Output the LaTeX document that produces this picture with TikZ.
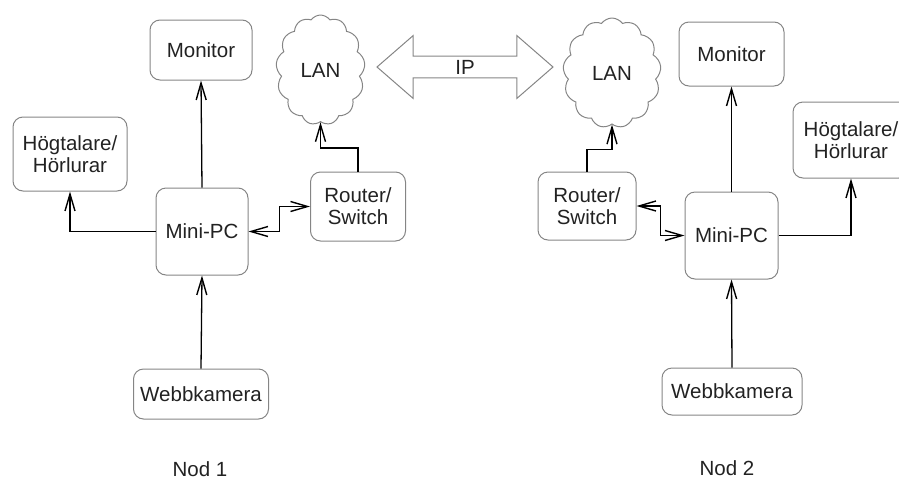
\documentclass[tikz,border=0pt]{standalone}
\usepackage{fontspec}
\setmainfont{Liberation Sans}
\usetikzlibrary{arrows.meta,shapes.symbols,shapes.arrows}
\definecolor{boxgray}{HTML}{858585}
\definecolor{txt}{HTML}{222222}
\begin{document}
\begin{tikzpicture}[x=1pt,y=-1pt,
  lbl/.style={text=txt,font=\fontsize{20.5}{22}\selectfont},
  box/.style={lbl,draw=boxgray,line width=1pt,rounded corners=10pt,align=center,inner sep=0pt},
  lan/.style={lbl,cloud,draw=boxgray,line width=1pt,cloud puffs=13,cloud puff arc=110,cloud ignores aspect,inner sep=0pt},
  conn/.style={draw=black,line width=1.3pt,-{Straight Barb[length=17pt,width=10pt,line width=1.4pt,sharp]}},
  bconn/.style={draw=black,line width=1.3pt,{Straight Barb[length=17pt,width=10pt,line width=1.4pt,sharp]}-{Straight Barb[length=17pt,width=10pt,line width=1.4pt,sharp]}}]
\useasboundingbox (0,0) rectangle (899,480);
\clip (0,0) rectangle (899,480);
% left node
\node[box,minimum width=102pt,minimum height=60pt] (mon1) at (201,50) {Monitor};
\node[box,minimum width=114pt,minimum height=74pt] (spk1) at (70,154) {Högtalare/\\Hörlurar};
\node[box,minimum width=92pt,minimum height=87pt] (pc1) at (202,231.5) {Mini-PC};
\node[box,minimum width=95pt,minimum height=69pt] (rt1) at (358,206.5) {Router/\\Switch};
\node[lan,minimum width=89pt,minimum height=110pt] (lan1) at (320.5,70) {LAN};
\node[box,minimum width=135pt,minimum height=50pt] (cam1) at (201,394) {Webbkamera};
\node[lbl] (nod1) at (200,469) {Nod 1};
% IP arrow
\node[lbl,double arrow,draw=boxgray,line width=1pt,minimum height=176pt,minimum width=63pt,
  double arrow head extend=14.5pt,double arrow tip angle=82,inner sep=0pt] (ip) at (465,67) {IP};
% right node
\node[lan,minimum width=98pt,minimum height=110pt] (lan2) at (612,73) {LAN};
\node[box,minimum width=105pt,minimum height=64pt] (mon2) at (731.5,54) {Monitor};
\node[box,minimum width=116pt,minimum height=76pt] (spk2) at (851,140) {Högtalare/\\Hörlurar};
\node[box,minimum width=98pt,minimum height=68pt] (rt2) at (587,206) {Router/\\Switch};
\node[box,minimum width=93pt,minimum height=87pt] (pc2) at (731.5,235.5) {Mini-PC};
\node[box,minimum width=140pt,minimum height=47pt] (cam2) at (732,391.5) {Webbkamera};
\node[lbl] (nod2) at (727,468) {Nod 2};
% connectors left
\draw[conn] (pc1.north) -- (mon1.south);
\draw[conn] (pc1.west) -| (spk1.south);
\draw[bconn] (pc1.east) -- ++(31,0) |- (rt1.west);
\draw[conn] (rt1.north) -- ++(0,-23.5) -| (lan1.south);
\draw[conn] (cam1.north) -- (pc1.south);
% connectors right
\draw[bconn] (rt2.east) -- ++(24,0) |- (pc2.west);
\draw[conn] (rt2.north) -- ++(0,-22) -| (lan2.south);
\draw[conn] (pc2.north) -- (mon2.south);
\draw[conn] (pc2.east) -| (spk2.south);
\draw[conn] (cam2.north) -- (pc2.south);
\end{tikzpicture}
\end{document}
